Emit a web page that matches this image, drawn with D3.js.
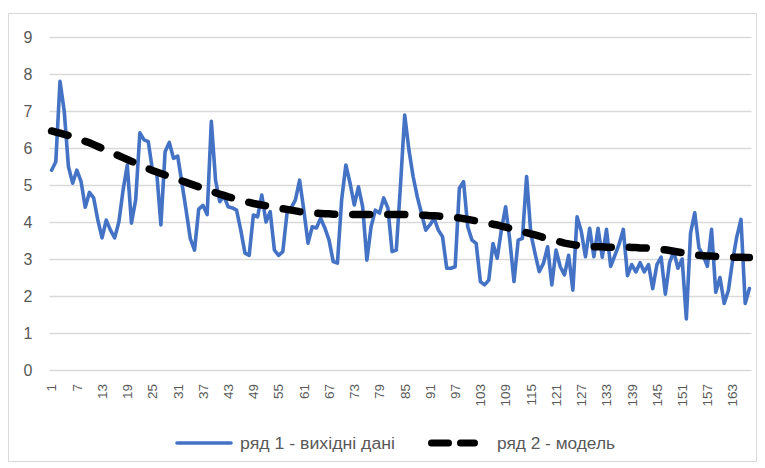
<!DOCTYPE html>
<html>
<head>
<meta charset="utf-8">
<script src="https://cdn.jsdelivr.net/npm/d3@7"></script>
<style>
  body { margin: 0; background: #fff; }
  text { font-family: "Liberation Sans", Arial, sans-serif; fill: #595959; }
</style>
</head>
<body>
<div id="chart"></div>
<script>
// series 1 - source data, one value per period
const rawValues = [
  5.4, 5.63, 7.8, 7.0, 5.5, 5.05, 5.4, 5.1, 4.4, 4.8,
  4.65, 4.05, 3.57, 4.05, 3.78, 3.57, 4.0, 4.86, 5.54, 3.97,
  4.6, 6.41, 6.22, 6.17, 5.4, 5.35, 3.92, 5.9, 6.15, 5.72,
  5.78, 5.05, 4.32, 3.55, 3.24, 4.35, 4.45, 4.2, 6.72, 5.13,
  4.55, 4.7, 4.41, 4.38, 4.32, 3.78, 3.16, 3.1, 4.19, 4.14,
  4.73, 4.0, 4.28, 3.24, 3.1, 3.2, 4.24, 4.38, 4.6, 5.13,
  4.32, 3.43, 3.87, 3.84, 4.1, 3.84, 3.51, 2.93, 2.89, 4.6,
  5.54, 5.05, 4.46, 4.95, 4.41, 2.97, 3.87, 4.32, 4.24, 4.65,
  4.38, 3.2, 3.24, 5.0, 6.89, 5.95, 5.23, 4.68, 4.23, 3.78,
  3.92, 4.1, 3.78, 3.6, 2.75, 2.75, 2.79, 4.91, 5.09, 3.87,
  3.51, 3.42, 2.39, 2.3, 2.43, 3.42, 3.02, 3.78, 4.41, 3.51,
  2.39, 3.51, 3.56, 5.23, 3.69, 3.15, 2.66, 2.88, 3.33, 2.3,
  3.24, 2.79, 2.57, 3.1, 2.16, 4.14, 3.75, 3.06, 3.83, 3.06,
  3.83, 3.05, 3.8, 2.8, 3.1, 3.4, 3.8, 2.55, 2.85, 2.65,
  2.9, 2.65, 2.85, 2.2, 2.85, 3.05, 2.05, 2.9, 3.2, 2.75,
  3.0, 1.38, 3.7, 4.25, 3.3, 3.1, 2.8, 3.8, 2.1, 2.5,
  1.8, 2.15, 2.95, 3.6, 4.07, 1.8, 2.2
];

// series 2 - model (trend)
const modelValues = [
  6.46, 6.43, 6.40, 6.37, 6.34, 6.30, 6.26, 6.22, 6.18, 6.14,
  6.09, 6.04, 5.99, 5.94, 5.89, 5.84, 5.79, 5.74, 5.69, 5.64,
  5.59, 5.54, 5.49, 5.44, 5.39, 5.35, 5.31, 5.27, 5.23, 5.19,
  5.15, 5.11, 5.07, 5.03, 4.99, 4.95, 4.91, 4.87, 4.83, 4.79,
  4.75, 4.72, 4.68, 4.65, 4.62, 4.59, 4.56, 4.53, 4.50, 4.48,
  4.46, 4.44, 4.42, 4.40, 4.38, 4.36, 4.34, 4.32, 4.30, 4.28,
  4.27, 4.26, 4.25, 4.24, 4.23, 4.22, 4.22, 4.21, 4.21, 4.21,
  4.20, 4.20, 4.20, 4.20, 4.20, 4.20, 4.20, 4.20, 4.20, 4.20,
  4.20, 4.20, 4.20, 4.20, 4.20, 4.19, 4.19, 4.19, 4.18, 4.18,
  4.17, 4.17, 4.16, 4.15, 4.14, 4.13, 4.12, 4.11, 4.09, 4.07,
  4.05, 4.03, 4.01, 3.99, 3.97, 3.94, 3.92, 3.89, 3.86, 3.83,
  3.80, 3.77, 3.74, 3.71, 3.68, 3.65, 3.62, 3.58, 3.55, 3.52,
  3.49, 3.46, 3.43, 3.41, 3.39, 3.37, 3.36, 3.35, 3.34, 3.33,
  3.33, 3.33, 3.32, 3.32, 3.32, 3.32, 3.32, 3.32, 3.31, 3.31,
  3.30, 3.30, 3.29, 3.28, 3.27, 3.26, 3.25, 3.23, 3.21, 3.19,
  3.17, 3.15, 3.13, 3.11, 3.10, 3.09, 3.08, 3.08, 3.07, 3.07,
  3.06, 3.06, 3.05, 3.05, 3.05, 3.04, 3.04
];

// categories 1..167
const periods = rawValues.map((d, i) => i + 1);
// every 6th category gets a label
const xTickLabels = periods.filter(p => (p - 1) % 6 === 0);
const yTicks = [0, 1, 2, 3, 4, 5, 6, 7, 8, 9];
const seriesNames = ["ряд 1 - вихідні дані", "ряд 2 - модель"];

const width = 765, height = 468;
const plot = {left: 49.5, right: 751.5, top: 37, bottom: 370};

const svg = d3.select("#chart")
    .append("svg")
    .attr("width", width)
    .attr("height", height);

// outer chart border
svg.append("rect")
    .attr("x", 8.5).attr("y", 13.5)
    .attr("width", 748).attr("height", 448)
    .attr("fill", "none")
    .attr("stroke", "#d9d9d9");

const x = d3.scaleBand()
    .domain(periods)
    .range([plot.left, plot.right]);
const cx = p => x(p) + x.bandwidth() / 2;

const y = d3.scaleLinear()
    .domain([0, 9])
    .range([plot.bottom, plot.top]);

// horizontal grid lines + y labels
const yAxis = svg.append("g")
    .attr("transform", "translate(" + plot.left + ",0)")
    .call(d3.axisLeft(y).tickValues(yTicks).tickSize(-(plot.right - plot.left)).tickPadding(17));
yAxis.select(".domain").remove();
yAxis.selectAll(".tick line").attr("stroke", "#d9d9d9").attr("stroke-width", 1.3);
yAxis.selectAll(".tick text")
    .style("font-family", "Liberation Sans, Arial, sans-serif")
    .style("font-size", "16px")
    .attr("fill", "#595959");

// x labels, rotated
const xAxis = svg.append("g")
    .attr("transform", "translate(0," + plot.bottom + ")")
    .call(d3.axisBottom(x).tickValues(xTickLabels).tickSize(0));
xAxis.select(".domain").remove();
xAxis.selectAll(".tick text")
    .style("font-family", "Liberation Sans, Arial, sans-serif")
    .style("font-size", "13.5px")
    .attr("fill", "#595959")
    .attr("text-anchor", "end")
    .attr("y", 0)
    .attr("dy", "0.36em")
    .attr("transform", "translate(0,14) rotate(-90)");

// series lines
const line = d3.line()
    .x((d, i) => cx(periods[i]))
    .y(d => y(d));

svg.append("path")
    .datum(rawValues)
    .attr("fill", "none")
    .attr("stroke", "#4472c4")
    .attr("stroke-width", 3.6)
    .attr("stroke-linejoin", "round")
    .attr("stroke-linecap", "round")
    .attr("d", line);

svg.append("path")
    .datum(modelValues)
    .attr("fill", "none")
    .attr("stroke", "#000")
    .attr("stroke-width", 7.5)
    .attr("stroke-linecap", "round")
    .attr("stroke-dasharray", "17,18")
    .attr("d", line);

// legend
const legend = svg.append("g").attr("transform", "translate(0,443)");
legend.append("line")
    .attr("x1", 177).attr("x2", 231)
    .attr("stroke", "#4472c4").attr("stroke-width", 3.6).attr("stroke-linecap", "round");
legend.append("text")
    .attr("x", 240).attr("dy", "0.35em")
    .style("font-size", "16px")
    .attr("textLength", 155)
    .attr("lengthAdjust", "spacingAndGlyphs")
    .text(seriesNames[0]);
legend.append("line")
    .attr("x1", 431.5).attr("x2", 474.5)
    .attr("stroke", "#000").attr("stroke-width", 7).attr("stroke-linecap", "round")
    .attr("stroke-dasharray", "17,12");
legend.append("text")
    .attr("x", 497).attr("dy", "0.35em")
    .style("font-size", "16px")
    .attr("textLength", 118)
    .attr("lengthAdjust", "spacingAndGlyphs")
    .text(seriesNames[1]);
</script>
</body>
</html>
